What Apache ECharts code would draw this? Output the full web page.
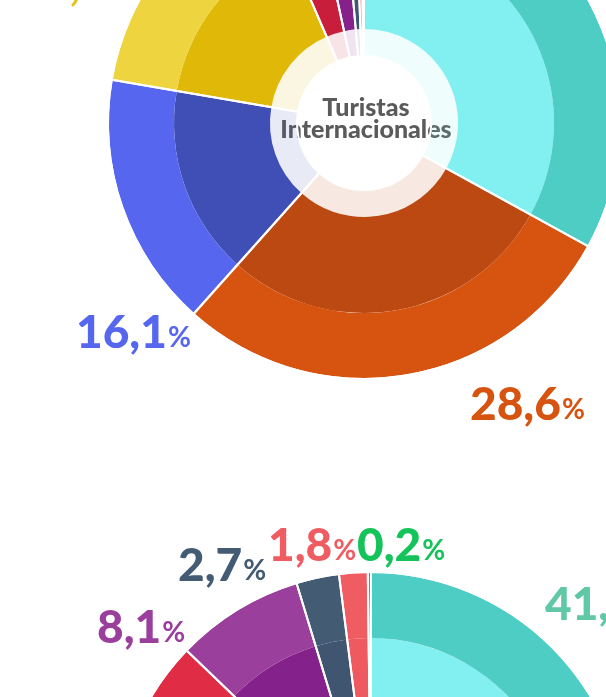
<!DOCTYPE html>
<html><head><meta charset="utf-8">
<script src="https://cdn.jsdelivr.net/npm/echarts@6/dist/echarts.min.js"></script>
<style>html,body{margin:0;padding:0;background:#fff}#c{width:606px;height:697px}</style>
</head><body><div id="c"></div>
<script>
// ---- data ----
const categories = ['Cat 1','Cat 2','Cat 3','Cat 4','Cat 5','Cat 6','Cat 7','Cat 8','Cat 9'];
const topValues = [33.0, 28.6, 16.1, 15.8, 3.1, 2.0, 0.8, 0.4, 0.2];
const bottomValues = [41.5, 20.0, 10.5, 9.0, 6.2, 8.1, 2.7, 1.8, 0.2];
const centerTitle = 'Turistas\nInternacionales';

// ---- styles ----
const innerColors = ['#82F0F0','#BC4812','#3F4FB5','#E0B908','#C81E3C','#84218A','#3F5570','#EE5A60','#0E9F45'];
const outerColors = ['#4ECDC5','#D6540F','#5766EE','#EED43F','#E02C44','#9B3F9C','#435C74','#EF5C62','#14C35A'];
const labelColors = ['#61C8A6','#D6540F','#5766EE','#E6C21C','#E02C44','#9B3F9C','#435C74','#EF5C62','#14C35A'];
const topLabelPos = [null,[470,405],[76,333],[16,-15],null,null,null,null,null];
const bottomLabelPos = [[545,605],null,null,null,null,[97,628],[178,566],[268,546],[357,546]];

function hexA(hex, a){
  const n = parseInt(hex.slice(1),16);
  return 'rgba(' + (n>>16&255) + ',' + (n>>8&255) + ',' + (n&255) + ',' + a + ')';
}
function fmt(v){ return v.toFixed(1).replace('.', ','); }

function donut(center, values, labelPos){
  const mk = (colorFn) => values.map((v,i) => ({name: categories[i], value: v, itemStyle: {color: colorFn(i)}}));
  const base = {type:'pie', center: center, startAngle: 90, clockwise: true, silent: true,
    avoidLabelOverlap: false, label: {show:false}, labelLine: {show:false}, emphasis: {disabled: true}};
  return [
    Object.assign({}, base, {radius: [67, 94], data: mk(i => hexA(innerColors[i], 0.12))}),
    Object.assign({}, base, {radius: [94, 190], data: mk(i => innerColors[i])}),
    Object.assign({}, base, {radius: [190, 255],
      data: values.map((v,i) => ({name: categories[i], value: v, itemStyle: {color: outerColors[i]},
        label: {show: !!labelPos[i], color: labelColors[i],
          rich: {n: {fontFamily: 'Lato', fontWeight: 900, fontSize: 46, color: labelColors[i]},
                 p: {fontFamily: 'Lato', fontWeight: 'bold', fontSize: 28, color: labelColors[i], padding: [10,0,0,1]}}}})),
      label: {show: true, position: 'outside', formatter: p => '{n|' + fmt(p.value) + '}{p|%}'},
      labelLine: {show: false},
      labelLayout: function(p){
        const pos = labelPos[p.dataIndex];
        if (!pos) return {};
        return {x: pos[0], y: pos[1], align: 'left', verticalAlign: 'middle'};
      }}),
    Object.assign({}, base, {radius: [67, 256], data: mk(() => 'rgba(0,0,0,0)'),
      itemStyle: {borderColor: '#ffffff', borderWidth: 2}})
  ];
}

const chart = echarts.init(document.getElementById('c'), null, {renderer: 'canvas', width: 606, height: 697});
chart.setOption({
  animation: false,
  backgroundColor: '#ffffff',
  series: [].concat(donut([364, 123], topValues, topLabelPos), donut([371, 828], bottomValues, bottomLabelPos)),
  graphic: [{type: 'text', x: 366, y: 119, silent: true,
    style: {text: centerTitle, align: 'center', verticalAlign: 'middle', fill: '#5A5A5A',
      font: '900 25px Lato', lineHeight: 22}}]
});
</script></body></html>
